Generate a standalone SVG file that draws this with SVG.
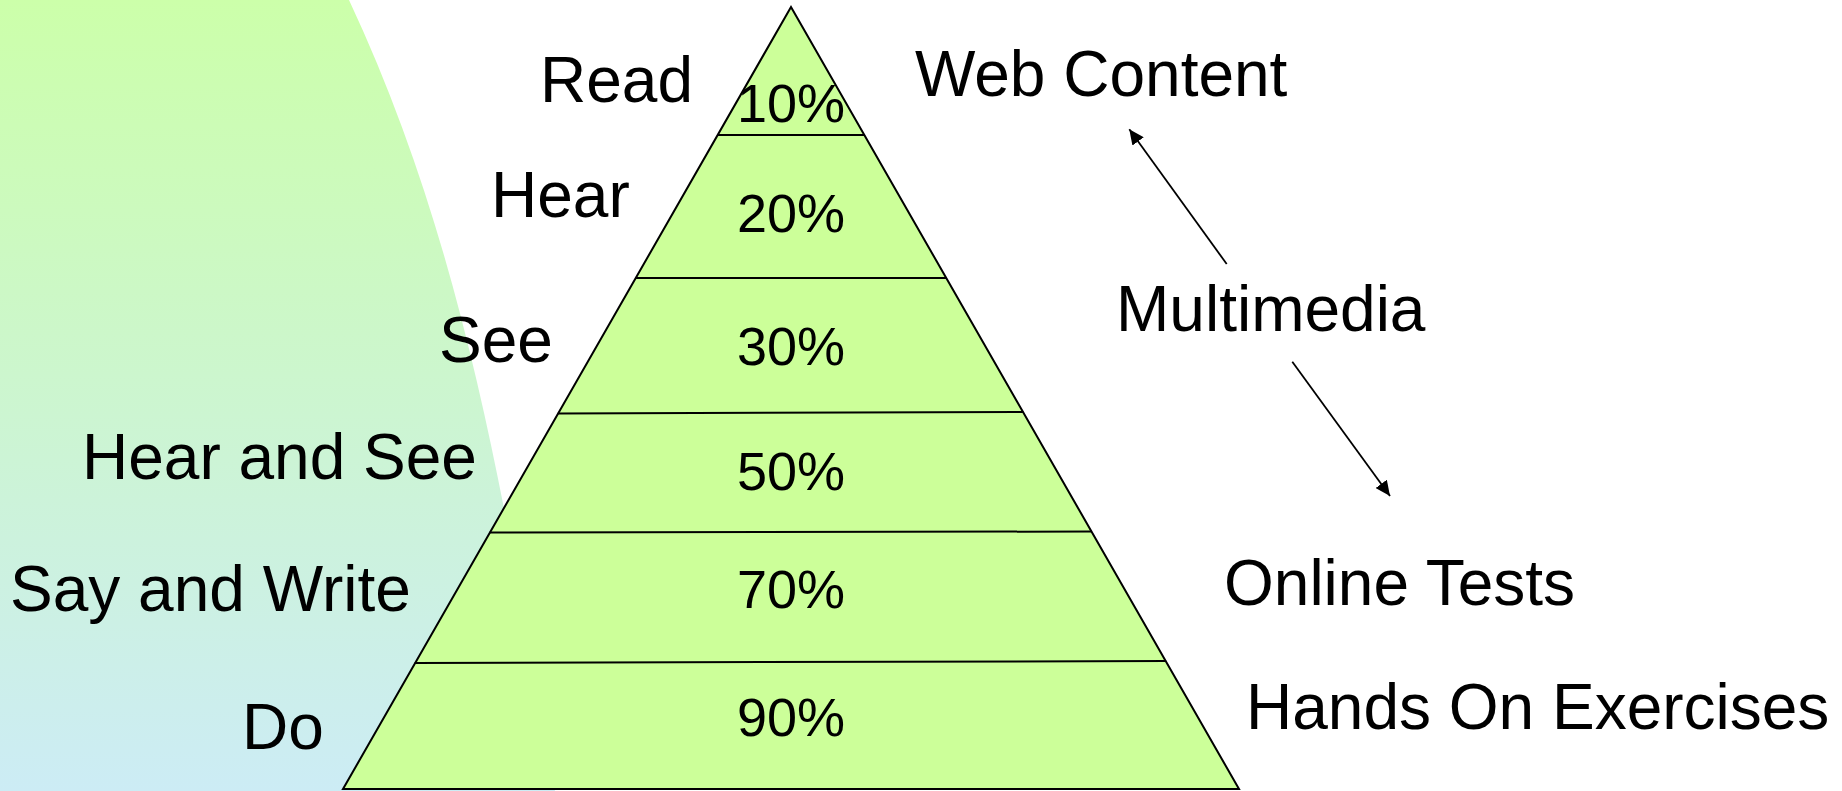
<svg xmlns="http://www.w3.org/2000/svg" width="1842" height="791" viewBox="0 0 1842 791">
<style>
.lbl{font-family:"Liberation Sans",Arial,sans-serif;font-size:64px;fill:#000}
.pct{font-family:"Liberation Sans",Arial,sans-serif;font-size:54px;fill:#000;text-anchor:middle}
.tier{fill:none;stroke:#000;stroke-width:2}
.conn{fill:none;stroke:#000;stroke-width:1.8}
</style>
<defs>
<linearGradient id="bg" x1="0" y1="0" x2="0" y2="1">
<stop offset="0" stop-color="#CCFFAA"/>
<stop offset="1" stop-color="#CCECF5"/>
</linearGradient>
<marker id="arr" markerUnits="userSpaceOnUse" markerWidth="16" markerHeight="14" refX="15" refY="7" orient="auto">
<path d="M0,0 L15,7 L0,14 z" fill="#000"/>
</marker>
</defs>
<rect width="1842" height="791" fill="#fff"/>
<path id="backdrop" d="M0,0 L349,0 C471,260 508,531 555,791 L0,791 Z" fill="url(#bg)"/>
<g id="pyramid">
<polygon points="791,7 1239,789 343,789" fill="#CCFF99" stroke="#000" stroke-width="2" stroke-linejoin="miter"/>
<line class="tier" x1="717.6" y1="135" x2="864.4" y2="135"/>
<line class="tier" x1="635.6" y1="278" x2="946.4" y2="278"/>
<line class="tier" x1="557.8" y1="413.5" x2="1023.3" y2="412"/>
<line class="tier" x1="489.6" y1="532.5" x2="1091.9" y2="531.5"/>
<line class="tier" x1="414.7" y1="663" x2="1166.1" y2="661"/>
</g>
<g id="percentages">
<text class="pct" x="791" y="122">10%</text>
<text class="pct" x="791" y="232">20%</text>
<text class="pct" x="791" y="365">30%</text>
<text class="pct" x="791" y="490">50%</text>
<text class="pct" x="791" y="608">70%</text>
<text class="pct" x="791" y="736">90%</text>
</g>
<g id="left-labels">
<text class="lbl" x="540" y="102">Read</text>
<text class="lbl" x="491" y="217">Hear</text>
<text class="lbl" x="439" y="362">See</text>
<text class="lbl" x="82" y="479">Hear and See</text>
<text class="lbl" x="10" y="611">Say and Write</text>
<text class="lbl" x="242" y="749">Do</text>
</g>
<g id="node-web-content"><text class="lbl" x="915" y="96">Web Content</text></g>
<g id="node-multimedia"><text class="lbl" x="1116" y="331">Multimedia</text></g>
<g id="node-online-tests"><text class="lbl" x="1224" y="605">Online Tests</text></g>
<g id="node-hands-on"><text class="lbl" x="1246" y="728.5">Hands On Exercises</text></g>
<g id="connectors">
<line class="conn" x1="1226.7" y1="264" x2="1129.3" y2="129.3" marker-end="url(#arr)"/>
<line class="conn" x1="1292.3" y1="361.7" x2="1390" y2="496" marker-end="url(#arr)"/>
</g>
</svg>
